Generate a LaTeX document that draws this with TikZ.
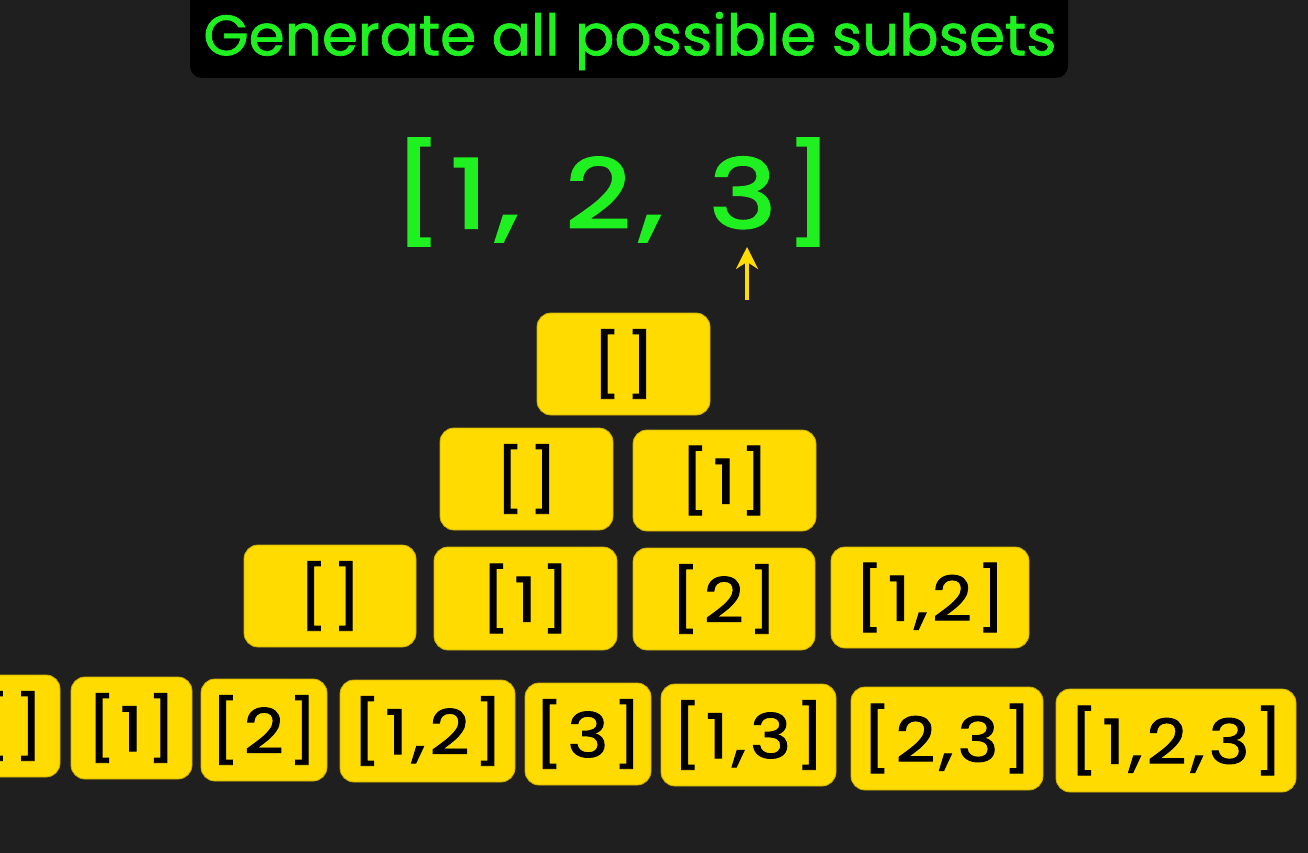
\documentclass[tikz,border=0pt]{standalone}
\usepackage{fontspec}
\setmainfont{Poppins}
\newfontfamily\boxfont{Poppins}[FakeBold=1.5, LetterSpace=6]
\newfontfamily\titlefont{Poppins}[FakeBold=1.2, LetterSpace=0]
\newfontfamily\arrfont{Poppins}[FakeBold=2.5, LetterSpace=8]
\usetikzlibrary{arrows.meta}
\definecolor{bg}{HTML}{1F1F1F}
\definecolor{ylw}{HTML}{FFDB00}
\definecolor{grn}{HTML}{1FF01F}
\newcommand{\bx}[1]{\scalebox{1.12}[1]{#1}}
\tikzset{
  sbox/.style={draw=ylw!80!black, line width=0.8pt, fill=ylw, rounded corners=14pt, inner sep=0pt,
     font=\boxfont\fontsize{62}{66}\selectfont, text=black},
  arr/.style={draw=ylw, line width=3.5pt, -{Stealth[length=22pt,width=22pt]}}
}
\begin{document}
\begin{tikzpicture}[x=1pt,y=-1pt]
\fill[bg] (0,0) rectangle (1308,853);
\useasboundingbox (0,0) rectangle (1308,853);
\clip (0,0) rectangle (1308,853);
% title
\node[fill=black, rounded corners=12pt, minimum width=878pt, minimum height=93pt, inner sep=0pt] (titlebox) at (629,31.5) {};
\node[text=grn, font=\titlefont\fontsize{57}{60}\selectfont] (title) at (630,41) {\scalebox{1.02}[1]{Generate all possible subsets}};
% array
\node[text=grn, font=\arrfont\fontsize{96}{106}\selectfont] (array) at (613.5,192) {\scalebox{1.18}[1]{[1,\hspace{40pt}2,\hspace{40pt}3]}};
\coordinate (atail) at (747,300);
\coordinate (ahead) at (747,247);
\draw[arr] (atail) -- (ahead);
% row 1
\node[sbox, minimum width=173pt, minimum height=102pt] (r1a) at (623.5,364) {\bx{[]}};
% row 2
\node[sbox, minimum width=173pt, minimum height=102pt] (r2a) at (526.5,479) {\bx{[]}};
\node[sbox, minimum width=183pt, minimum height=101pt] (r2b) at (724.5,480.5) {\bx{[1]}};
% row 3
\node[sbox, minimum width=172pt, minimum height=102pt] (r3a) at (330,596) {\bx{[]}};
\node[sbox, minimum width=183pt, minimum height=103pt] (r3b) at (525.5,598.5) {\bx{[1]}};
\node[sbox, minimum width=182pt, minimum height=102pt] (r3c) at (724,599) {\bx{[2]}};
\node[sbox, minimum width=198pt, minimum height=101pt] (r3d) at (930,597.5) {\bx{[1,2]}};
% row 4
\node[sbox, minimum width=100pt, minimum height=102pt] (r4a) at (10,726) {\hspace*{4pt}\bx{[]}};
\node[sbox, minimum width=121pt, minimum height=102pt] (r4b) at (131.5,728) {\bx{[1]}};
\node[sbox, minimum width=126pt, minimum height=102pt] (r4c) at (264,730) {\bx{[2]}};
\node[sbox, minimum width=175pt, minimum height=102pt] (r4d) at (427.5,731) {\bx{[1,2]}};
\node[sbox, minimum width=126pt, minimum height=102pt] (r4e) at (588,734) {\bx{[3]}};
\node[sbox, minimum width=175pt, minimum height=102pt] (r4f) at (748.5,735) {\bx{[1,3]}};
\node[sbox, minimum width=192pt, minimum height=103pt] (r4g) at (947,738.5) {\bx{[2,3]}};
\node[sbox, minimum width=240pt, minimum height=103pt] (r4h) at (1176,740.5) {\bx{[1,2,3]}};
\end{tikzpicture}
\end{document}
